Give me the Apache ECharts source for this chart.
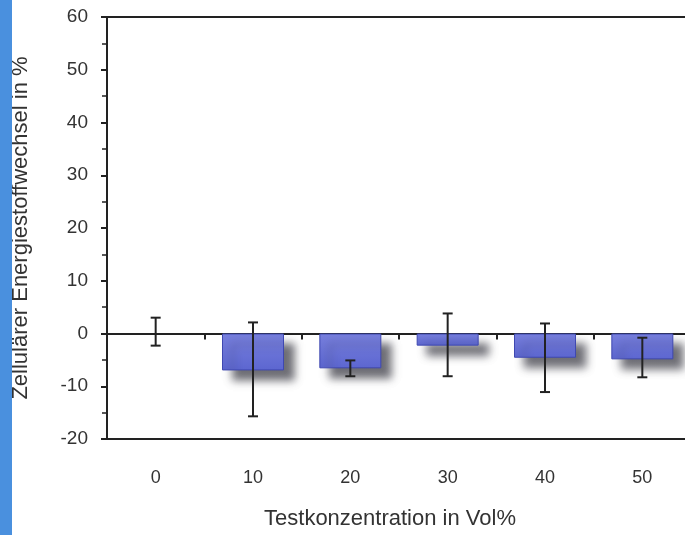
<!DOCTYPE html>
<html>
<head>
<meta charset="utf-8">
<script src="https://cdn.jsdelivr.net/npm/echarts@6/dist/echarts.min.js"></script>
<style>
  html, body { margin: 0; padding: 0; background: #fff; }
  #chart { width: 685px; height: 535px; }
</style>
</head>
<body>
<div id="chart"></div>
<script>
  // Testkonzentration (Vol%)
  const categories = ["0", "10", "20", "30", "40", "50"];
  // mean change of cellular energy metabolism (%)
  const values = [0, -7.0, -6.6, -2.3, -4.6, -4.9];
  // error bar ends
  const errHigh = [3.0, 2.1, -5.1, 3.8, 1.9, -0.8];
  const errLow = [-2.3, -15.7, -8.1, -8.1, -11.1, -8.3];
  const yTicks = { min: -20, max: 60, step: 10 };

  const chart = echarts.init(document.getElementById("chart"));
  const axisColor = "#222";
  const textColor = "#333";
  const font = "Liberation Sans, Arial, sans-serif";
  const lineStyle = { color: axisColor, width: 2 };

  const option = {
    animation: false,
    backgroundColor: "#fff",
    graphic: [
      { type: "rect", left: 0, top: 0, shape: { width: 12, height: 535 }, style: { fill: "#4a90de" }, z: 10 }
    ],
    grid: {
      left: 107,
      top: 17,
      right: -6,
      bottom: 96,
      outerBoundsMode: "none"
    },
    xAxis: [
      {
        type: "category",
        data: categories,
        position: "bottom",
        axisLine: { show: true, onZero: false, lineStyle },
        axisTick: { show: false },
        axisLabel: { margin: 30, fontSize: 18, color: textColor, fontFamily: font },
        name: "Testkonzentration in Vol%",
        nameLocation: "middle",
        nameGap: 69,
        nameTextStyle: { fontSize: 22, color: textColor, fontFamily: font, padding: [0, 18, 0, 0] }
      },
      {
        type: "category",
        data: categories,
        position: "bottom",
        axisLine: { show: true, onZero: true, lineStyle },
        axisTick: { show: true, length: 6, lineStyle },
        axisLabel: { show: false }
      },
      {
        type: "category",
        data: categories,
        position: "top",
        axisLine: { show: true, onZero: false, lineStyle },
        axisTick: { show: false },
        axisLabel: { show: false }
      }
    ],
    yAxis: {
      type: "value",
      min: yTicks.min,
      max: yTicks.max,
      interval: yTicks.step,
      axisLine: { show: true, lineStyle },
      axisTick: { show: true, length: 6, lineStyle },
      minorTick: { show: true, splitNumber: 2, length: 5, lineStyle: { color: axisColor, width: 1.5 } },
      splitLine: { show: false },
      axisLabel: { margin: 19, fontSize: 19, color: textColor, fontFamily: font },
      name: "Zellulärer Energiestoffwechsel in %",
      nameLocation: "middle",
      nameGap: 75,
      nameTextStyle: { fontSize: 22, color: textColor, fontFamily: font }
    },
    series: [
      {
        type: "bar",
        xAxisIndex: 0,
        data: values.map(v => (v === 0 ? "-" : v)),
        barWidth: 62,
        itemStyle: {
          color: new echarts.graphic.LinearGradient(0, 0, 0, 1, [
            { offset: 0, color: "#7880de" },
            { offset: 1, color: "#5c66d0" }
          ]),
          borderColor: "#3f48b0",
          borderWidth: 1,
          shadowColor: "rgba(50, 50, 60, 0.7)",
          shadowBlur: 8,
          shadowOffsetX: 10,
          shadowOffsetY: 10
        },
        z: 2
      },
      {
        type: "custom",
        xAxisIndex: 0,
        data: categories.map((c, i) => [i, errHigh[i], errLow[i]]),
        encode: { x: 0, y: [1, 2] },
        z: 5,
        renderItem: (params, api) => {
          const top = api.coord([api.value(0), api.value(1)]);
          const bot = api.coord([api.value(0), api.value(2)]);
          const half = 5;
          const style = { stroke: axisColor, lineWidth: 2 };
          return {
            type: "group",
            children: [
              { type: "line", shape: { x1: top[0], y1: top[1], x2: bot[0], y2: bot[1] }, style },
              { type: "line", shape: { x1: top[0] - half, y1: top[1], x2: top[0] + half, y2: top[1] }, style },
              { type: "line", shape: { x1: bot[0] - half, y1: bot[1], x2: bot[0] + half, y2: bot[1] }, style }
            ]
          };
        }
      }
    ]
  };
  chart.setOption(option);
</script>
</body>
</html>
